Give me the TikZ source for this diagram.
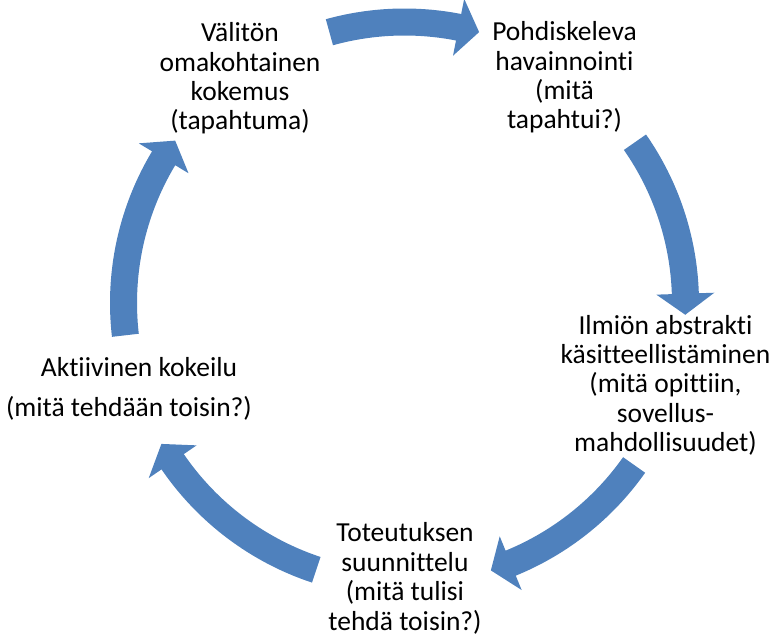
\documentclass[tikz,border=0pt]{standalone}
\usepackage{fontspec}
\setmainfont{Carlito}[Ligatures=NoCommon]
\definecolor{arrowblue}{HTML}{4F81BD}
\tikzset{
  lbl/.style={anchor=base, align=center, inner sep=0pt, font=\fontsize{27.5}{29.4}\selectfont, text=black},
  arrowfill/.style={fill=arrowblue, draw=none}
}
% #1 = tail angle, #2 = tip angle (clockwise arrow)
\newcommand\cyclearrow[2]{%
  \pgfmathsetmacro\hbase{#2+4.3}%
  \fill[arrowfill] (#1:294.5pt) arc[start angle=#1, end angle=\hbase, radius=294.5pt]
    -- (\hbase:310pt) -- (#2:281pt) -- (\hbase:252pt) -- (\hbase:267.5pt)
    arc[start angle=\hbase, end angle=#1, radius=267.5pt] -- cycle;
}
\begin{document}
\begin{tikzpicture}[x=1pt,y=1pt]
\useasboundingbox (0,0) rectangle (776,638);
\begin{scope}[shift={(404.5,335)}]
  \cyclearrow{105.5}{74.6}
  \cyclearrow{34.9}{-2.4}
  \cyclearrow{-35.2}{-72.1}
  \cyclearrow{-108.3}{-149.9}
  \cyclearrow{186.6}{144.7}
\end{scope}
% anchor=base of a multi-line node is the last line's baseline
\node[lbl] (exp) at (240,508) {Välitön\\omakohtainen\\kokemus\\(tapahtuma)};
\node[lbl] (obs) at (564.5,509) {Pohdiskeleva\\havainnointi\\(mitä\\tapahtui?)};
\node[lbl] (abs) at (665.5,186.3) {Ilmiön abstrakti\\käsitteellistäminen\\(mitä opittiin,\\sovellus-\\mahdollisuudet)};
\node[lbl] (plan) at (405,8) {Toteutuksen\\suunnittelu\\(mitä tulisi\\tehdä toisin?)};
\node[lbl] (act1) at (139,261.5) {Aktiivinen kokeilu};
\node[lbl] (act2) at (129,222) {(mitä tehdään toisin?)};
\end{tikzpicture}
\end{document}
